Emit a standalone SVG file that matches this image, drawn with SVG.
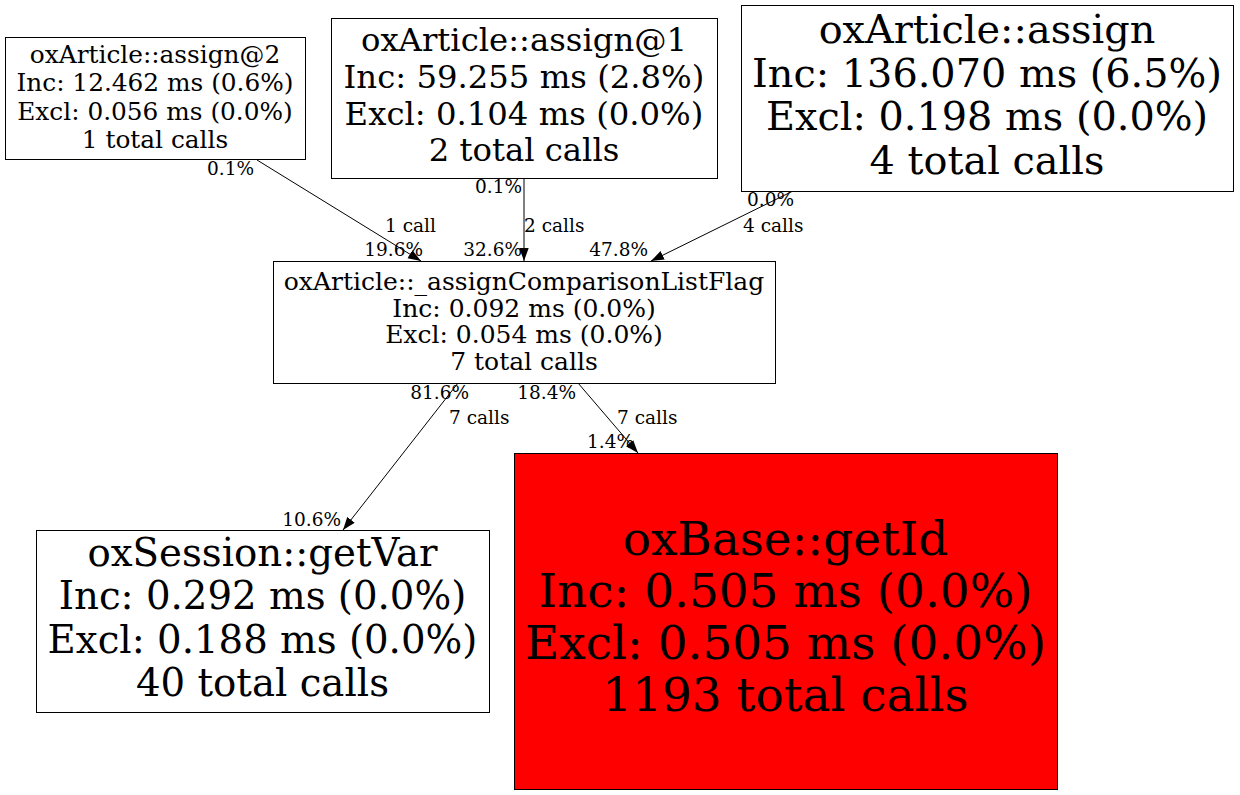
<svg xmlns="http://www.w3.org/2000/svg" width="1240" height="795" viewBox="0 0 1240 795">
<style>
text{font-family:"DejaVu Serif","Liberation Serif",serif;fill:#000;text-anchor:middle}
.box{fill:#fff;stroke:#000;stroke-width:1}
.hot{fill:#ff0000;stroke:#000;stroke-width:1}
.e{fill:none;stroke:#000;stroke-width:1}
.lbl{font-size:18.5px}
.s{text-anchor:start}
.en{text-anchor:end}
.fa{font-size:24.8px}
.fb{font-size:32.3px}
.fc{font-size:39.8px}
.fd{font-size:25px}
.fe{font-size:38.7px}
.ff{font-size:46.9px}
</style>
<defs>
<marker id="arr" viewBox="0 0 13 10" refX="13" refY="5" markerWidth="13" markerHeight="10" markerUnits="userSpaceOnUse" orient="auto">
<path d="M0,0.3 L13,5 L0,9.7 Z" fill="#000"/>
</marker>
</defs>
<rect width="1240" height="795" fill="#fff"/>
<g id="connectors">
<path class="e" d="M257,160 L421,261" marker-end="url(#arr)"/>
<path class="e" d="M524,179 L524,261" marker-end="url(#arr)"/>
<path class="e" d="M793,191 L651,261" marker-end="url(#arr)"/>
<path class="e" d="M458,383 L343,530" marker-end="url(#arr)"/>
<path class="e" d="M578,383 L638,453" marker-end="url(#arr)"/>
<text class="lbl en" x="254" y="175">0.1%</text>
<text class="lbl s" x="385" y="232">1 call</text>
<text class="lbl en" x="423" y="256">19.6%</text>
<text class="lbl en" x="522" y="193">0.1%</text>
<text class="lbl s" x="524" y="232">2 calls</text>
<text class="lbl en" x="522" y="256">32.6%</text>
<text class="lbl en" x="794" y="206">0.0%</text>
<text class="lbl s" x="743" y="232">4 calls</text>
<text class="lbl en" x="648" y="256">47.8%</text>
<text class="lbl en" x="469" y="399">81.6%</text>
<text class="lbl s" x="449" y="424">7 calls</text>
<text class="lbl en" x="576" y="399">18.4%</text>
<text class="lbl s" x="617" y="424">7 calls</text>
<text class="lbl en" x="634" y="448">1.4%</text>
<text class="lbl en" x="341" y="526">10.6%</text>
</g>
<g id="node-assign2">
<rect class="box" x="5.5" y="37.5" width="300" height="122"/>
<text class="fa" x="155" y="62.5">oxArticle::assign@2</text>
<text class="fa" x="155" y="91">Inc: 12.462 ms (0.6%)</text>
<text class="fa" x="155" y="119.5">Excl: 0.056 ms (0.0%)</text>
<text class="fa" x="155" y="148">1 total calls</text>
</g>
<g id="node-assign1">
<rect class="box" x="331.5" y="18.5" width="386" height="160"/>
<text class="fb" x="524" y="50.5">oxArticle::assign@1</text>
<text class="fb" x="524" y="87.5">Inc: 59.255 ms (2.8%)</text>
<text class="fb" x="524" y="124.5">Excl: 0.104 ms (0.0%)</text>
<text class="fb" x="524" y="161">2 total calls</text>
</g>
<g id="node-assign">
<rect class="box" x="741.5" y="5.5" width="492" height="186"/>
<text class="fc" x="987" y="43">oxArticle::assign</text>
<text class="fc" x="987" y="86.5">Inc: 136.070 ms (6.5%)</text>
<text class="fc" x="987" y="130">Excl: 0.198 ms (0.0%)</text>
<text class="fc" x="987" y="173.5">4 total calls</text>
</g>
<g id="node-flag">
<rect class="box" x="273.5" y="261.5" width="502" height="122"/>
<text class="fd" x="524" y="289.5">oxArticle::_assignComparisonListFlag</text>
<text class="fd" x="524" y="316.5">Inc: 0.092 ms (0.0%)</text>
<text class="fd" x="524" y="343">Excl: 0.054 ms (0.0%)</text>
<text class="fd" x="524" y="370">7 total calls</text>
</g>
<g id="node-getvar">
<rect class="box" x="36.5" y="530.5" width="453" height="182"/>
<text class="fe" x="262.5" y="565.5">oxSession::getVar</text>
<text class="fe" x="262.5" y="609">Inc: 0.292 ms (0.0%)</text>
<text class="fe" x="262.5" y="652.5">Excl: 0.188 ms (0.0%)</text>
<text class="fe" x="262.5" y="696">40 total calls</text>
</g>
<g id="node-getid">
<rect class="hot" x="514.5" y="453.5" width="543" height="336"/>
<text class="ff" x="785.5" y="555">oxBase::getId</text>
<text class="ff" x="785.5" y="607">Inc: 0.505 ms (0.0%)</text>
<text class="ff" x="785.5" y="659">Excl: 0.505 ms (0.0%)</text>
<text class="ff" x="785.5" y="711">1193 total calls</text>
</g>
</svg>
